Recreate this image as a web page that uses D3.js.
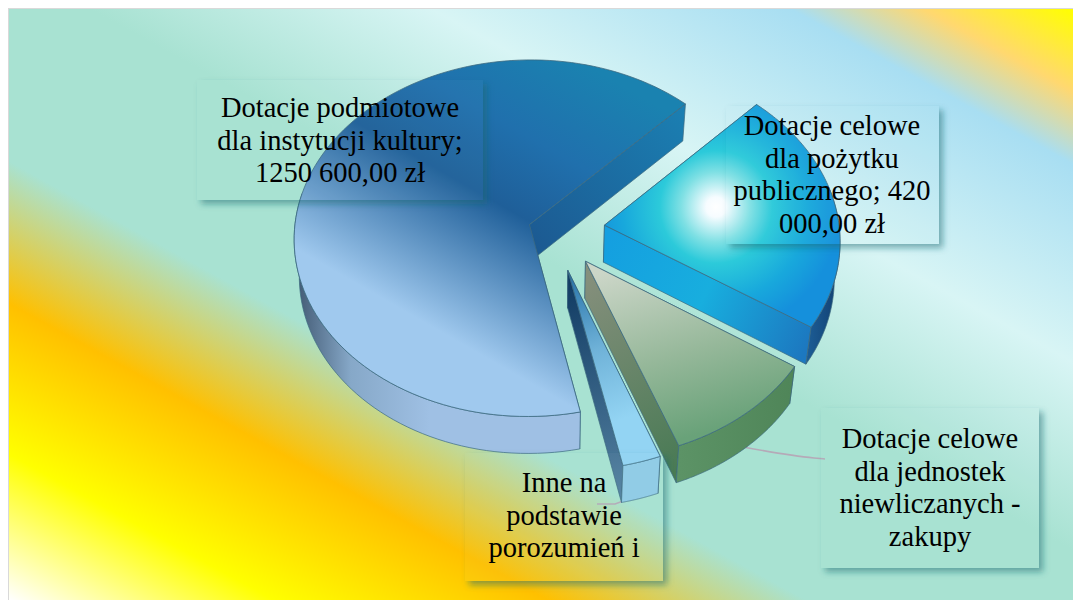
<!DOCTYPE html>
<html>
<head>
<meta charset="utf-8">
<script src="https://cdn.jsdelivr.net/npm/d3@7"></script>
<style>
    html, body { margin: 0; padding: 0; background: #fff; overflow: hidden; }
    svg { display: block; }
    text { font-family: "Liberation Serif", serif; font-size: 28.5px; fill: #000; text-anchor: middle; }
</style>
</head>
<body>
<svg id="chart" width="1073" height="600"></svg>
<script>
// values read off the picture (last two only estimated from the slice angles)
const categories = [
    'Dotacje podmiotowe dla instytucji kultury',
    'Dotacje celowe dla pożytku publicznego',
    'Dotacje celowe dla jednostek niewliczanych - zakupy',
    'Inne na podstawie porozumień i',
];
const amounts = [1250600, 420000, 190000, 46000];
const labelLines = [
    ['Dotacje podmiotowe', 'dla instytucji kultury;', '1250 600,00 zł'],
    ['Dotacje celowe', 'dla pożytku', 'publicznego; 420', '000,00 zł'],
    ['Dotacje celowe', 'dla jednostek', 'niewliczanych -', 'zakupy'],
    ['Inne na', 'podstawie', 'porozumień i'],
];

const width = 1073, height = 600;
const svg = d3.select('#chart');
const defs = svg.append('defs');

function linearGrad(id, x1, y1, x2, y2, stops) {
    const g = defs.append('linearGradient').attr('id', id)
        .attr('gradientUnits', 'userSpaceOnUse')
        .attr('x1', x1).attr('y1', y1).attr('x2', x2).attr('y2', y2);
    stops.forEach(s => g.append('stop').attr('offset', s[0]).attr('stop-color', s[1]));
}

// background
linearGrad('bg', 9, 600, 506, -303, [
    [0, '#ffffff'], [0.124, '#ffff00'], [0.252, '#ffc000'], [0.373, '#a8e2d2'],
    [0.54, '#a8e2d2'], [0.7, '#d8f5f5'], [0.868, '#a8def2'], [0.93, '#ffd870'], [1, '#ffff00'],
]);
svg.append('rect').attr('x', 8).attr('y', 8).attr('width', width).attr('height', height).attr('fill', '#d9d9d9');
svg.append('rect').attr('x', 9).attr('y', 9).attr('width', width).attr('height', height).attr('fill', 'url(#bg)');

// slice fills
linearGrad('bigTop', 310, 257, 461, -7, [[0, '#a0c9ee'], [0.46, '#1f5f99'], [0.7, '#2070ad'], [1, '#1a82b0']]);
linearGrad('bigCut', 540, 250, 685, 110, [[0, '#1c5a92'], [1, '#1b7fb2']]);
linearGrad('bigWall', 298, 0, 430, 0, [[0, '#445c76'], [0.4, '#86a8c8'], [1, '#9fc0e4']]);
const blueTop = defs.append('radialGradient').attr('id', 'blueTop').attr('gradientUnits', 'userSpaceOnUse')
    .attr('cx', 716).attr('cy', 207).attr('r', 125);
[[0, '#ffffff'], [0.08, '#f6fcff'], [0.28, '#7fe0e4'], [0.45, '#2ccada'], [0.75, '#18a8dc'], [1, '#1590dc']]
    .forEach(s => blueTop.append('stop').attr('offset', s[0]).attr('stop-color', s[1]));
linearGrad('blueCut', 605, 240, 810, 340, [[0, '#149fe0'], [0.5, '#18aede'], [1, '#1c78c0']]);
linearGrad('blueWall', 805, 0, 840, 0, [[0, '#1d5f98'], [1, '#123f70']]);
linearGrad('greenTop', 610, 270, 660, 445, [[0, '#ccd6c8'], [0.55, '#96b89a'], [1, '#69a279']]);
linearGrad('greenCut', 584, 280, 680, 470, [[0, '#858f7c'], [1, '#487a54']]);
linearGrad('greenWall', 680, 0, 795, 0, [[0, '#5c9366'], [1, '#4f8558']]);
linearGrad('otherTop', 570, 280, 620, 420, [[0, '#2d78ad'], [0.5, '#6fb2d8'], [1, '#93d4f3']]);
linearGrad('otherCut', 565, 280, 615, 490, [[0, '#103a62'], [1, '#527f9f']]);

const fills = [
    { top: 'url(#bigTop)', cut: 'url(#bigCut)', wall: 'url(#bigWall)' },
    { top: 'url(#blueTop)', cut: 'url(#blueCut)', wall: 'url(#blueWall)' },
    { top: 'url(#greenTop)', cut: 'url(#greenCut)', wall: 'url(#greenWall)' },
    { top: 'url(#otherTop)', cut: 'url(#otherCut)', wall: '#90cbe6' },
];
const explode = [0.1, 0.225, 0.225, 0.235];

// tilted pie plane
const cx = 552, cy = 229.5, radius = 235, radiusY = 178, depth = 37, persp = 0.0765, taper = 0.98;
const xScale = d3.scaleLinear().domain([-1, 1]).range([cx - radius, cx + radius]);
const yScale = d3.scaleLinear().domain([-1, 1]).range([cy + radiusY, cy - radiusY]);
const project = (u, v) => {
    const s = 1 / (1 + persp * v);
    return [xScale(u * s), yScale(v * s)];
};
const lower = p => [cx + (p[0] - cx) * taper, p[1] + depth];
const line = d3.line();

const start = 168 * Math.PI / 180;
const pie = d3.pie().sort(null).startAngle(start).endAngle(start + 2 * Math.PI);
const slices = pie(amounts);

// leader lines sit under the slices
const leader = d3.line().curve(d3.curveMonotoneX);
const g = svg.append('g');
g.append('path').attr('d', leader([[743, 447], [814, 458], [825, 459]]))
    .attr('fill', 'none').attr('stroke', '#b5aab8').attr('stroke-width', 1.5);
g.append('path').attr('d', line([[597, 504], [615, 504], [645, 493]]))
    .attr('fill', 'none').attr('stroke', '#b5aab8').attr('stroke-width', 1.5);

const edge = '#3c6a80';
slices.forEach((d, i) => {
    const mid = (d.startAngle + d.endAngle) / 2;
    const ou = explode[i] * Math.sin(mid), ov = explode[i] * Math.cos(mid);
    const at = (a, r) => project(ou + r * Math.sin(a), ov + r * Math.cos(a));
    const steps = d3.range(0, 121).map(k => d.startAngle + (d.endAngle - d.startAngle) * k / 120);
    const apex = at(0, 0);
    const rim = steps.map(a => at(a, 1));
    const rimLow = rim.map(lower);
    const cutFace = p => line([apex, p, lower(p), lower(apex)]) + 'Z';
    const sl = g.append('g');
    [rim[0], rim[rim.length - 1]].forEach(p => {
        sl.append('path').attr('d', cutFace(p))
            .attr('fill', fills[i].cut).attr('stroke', edge).attr('stroke-width', 0.7);
    });
    // outer wall, only the part facing the viewer
    const front = steps.map((a, k) => k).filter(k => Math.cos(steps[k]) < 0.2);
    const wallTop = front.map(k => rim[k]), wallLow = front.map(k => rimLow[k]).reverse();
    sl.append('path').attr('d', line(wallTop.concat(wallLow)) + 'Z')
        .attr('fill', fills[i].wall).attr('stroke', edge).attr('stroke-width', 0.7);
    sl.append('path').attr('d', line([apex].concat(rim)) + 'Z')
        .attr('fill', fills[i].top).attr('stroke', edge).attr('stroke-width', 0.8);
});

// label boxes: thin glass fill with a shadow that only falls outside
const labelBoxes = [
    { x: 197, y: 80, w: 286, h: 120, tx: 340, ty: 117 },
    { x: 726, y: 106, w: 213, h: 138, tx: 832, ty: 135 },
    { x: 821, y: 408, w: 218, h: 160, tx: 930, ty: 448 },
    { x: 465, y: 453, w: 198, h: 128, tx: 564, ty: 492 },
];
const lineStep = 32.5;
defs.append('filter').attr('id', 'blur').attr('x', '-20%').attr('y', '-20%').attr('width', '140%').attr('height', '140%')
    .append('feGaussianBlur').attr('stdDeviation', 3);
labelBoxes.forEach((b, i) => {
    const clipId = `outside${i}`;
    defs.append('clipPath').attr('id', clipId).append('path').attr('clip-rule', 'evenodd')
        .attr('d', `M0,0H${width}V${height}H0Z M${b.x},${b.y}h${b.w}v${b.h}h${-b.w}Z`);
    svg.append('g').attr('clip-path', `url(#${clipId})`)
        .append('rect').attr('x', b.x + 4).attr('y', b.y + 4).attr('width', b.w).attr('height', b.h)
        .attr('fill', '#1a6a70').attr('fill-opacity', 0.5).attr('filter', 'url(#blur)');
    svg.append('rect').attr('x', b.x).attr('y', b.y).attr('width', b.w).attr('height', b.h)
        .attr('fill', '#b8ecdf').attr('fill-opacity', 0.04);
    svg.append('text').attr('data-name', categories[i]).selectAll('tspan').data(labelLines[i]).join('tspan')
        .attr('x', b.tx).attr('y', (t, k) => b.ty + k * lineStep).text(t => t);
});
</script>
</body>
</html>
